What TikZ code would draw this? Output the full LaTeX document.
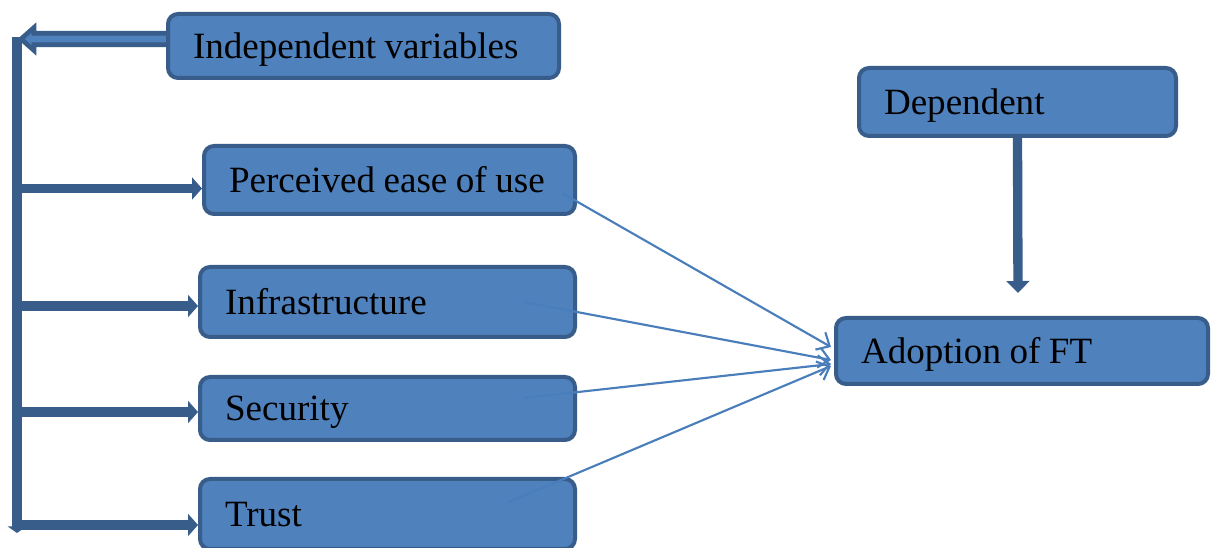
\documentclass[tikz,border=0pt]{standalone}
\usepackage{fontspec}
\setmainfont{Liberation Serif}
\usetikzlibrary{arrows.meta,calc,backgrounds}
\definecolor{bf}{HTML}{4F81BD}
\definecolor{bd}{HTML}{385D8A}
\definecolor{ln}{HTML}{4A7EBB}
\newcommand\boxtxt[1]{\spaceskip=0.23em\relax\mbox{#1}}
\tikzset{
  box/.style={draw=bd, fill=bf, line width=3pt, rounded corners=7.5pt,
    inner xsep=18.75pt, inner ysep=0pt, align=left,
    font=\fontsize{27.8pt}{33pt}\selectfont, text height=18.4pt, text depth=0pt},
  fatarrow/.style={draw=bd, line width=7pt, -{Triangle[length=7.5pt,width=16.5pt]}},
  thinarrow/.style={draw=ln, line width=1.6pt, -{Straight Barb[length=8pt,width=15pt,line width=1.6pt]}},
}
\begin{document}
\begin{tikzpicture}[x=0.75pt,y=-0.75pt]
\useasboundingbox (0,0) rectangle (1211,548);
% boxes
\node[box, minimum width=293.25pt, minimum height=48pt, text width=255.75pt] (indep) at (363.5,46) {\boxtxt{Independent variables}};
\node[box, minimum width=278.25pt, minimum height=51pt, text width=240.75pt] (per) at (389.5,180) {\boxtxt{Perceived ease of use}};
\node[box, minimum width=281.25pt, minimum height=52.5pt, text width=243.75pt] (inf) at (387.5,302) {\boxtxt{Infrastructure}};
\node[box, minimum width=281.25pt, minimum height=47.25pt, text width=243.75pt] (sec) at (387.5,408.5) {\boxtxt{Security}};
\node[box, minimum width=281.25pt, minimum height=52.5pt, text width=243.75pt] (tru) at (387.5,514) {\boxtxt{Trust}};
\node[box, minimum width=237.75pt, minimum height=51pt, text width=200.25pt] (dep) at (1017.5,102) {\boxtxt{Dependent}};
\node[box, minimum width=279pt, minimum height=49.5pt, text width=241.5pt] (ado) at (1022,351) {\boxtxt{Adoption of FT}};
% top outlined arrow
\coordinate (ta) at ($(indep.west)+(0,-7)$);
\coordinate (ttip) at (21,39);
\begin{pgfonlayer}{background}
\draw[draw=bd, fill=bf, line width=3.5pt, line join=miter]
  ($(ta)+(0,-5.8)$) -- ($(ttip)+(13,-5.8)$) -- ($(ttip)+(13,-11.5)$) -- (ttip)
  -- ($(ttip)+(13,11.5)$) -- ($(ttip)+(13,5.8)$) -- ($(ta)+(0,5.8)$);
\end{pgfonlayer}
% vertical bar
\coordinate (vtop) at (17,37);
\coordinate (vbot) at (17,533);
\draw[draw=bd, line width=7pt, -{Triangle[length=5pt,width=14pt]}] (vtop) -- (vbot);
% horizontal arrows
\coordinate (pa) at ($(per.west)+(0,8.5)$);
\coordinate (ia) at ($(inf.west)+(0,4)$);
\coordinate (sa) at ($(sec.west)+(0,3.5)$);
\coordinate (ra) at ($(tru.west)+(0,11)$);
\draw[fatarrow] (vtop |- pa) -- (pa);
\draw[fatarrow] (vtop |- ia) -- (ia);
\draw[fatarrow] (vtop |- sa) -- (sa);
\draw[fatarrow] (vtop |- ra) -- (ra);
% dependent arrow
\coordinate (dtip) at ($(dep.south)+(0.5,155)$);
\draw[draw=bd, line width=7pt, -{Triangle[length=9pt,width=17pt]}] (dep.south) -- (dtip);
% thin arrows
\draw[thinarrow] ($(per.east)+(-15,13)$) -- ($(ado.west)+(-3,-4)$);
\draw[thinarrow] ($(inf.east)+(-53,0)$) -- ($(ado.west)+(-3,9)$);
\draw[thinarrow] ($(sec.east)+(-53,-10.5)$) -- ($(ado.west)+(-3,13)$);
\draw[thinarrow] ($(tru.east)+(-68,-12)$) -- ($(ado.west)+(-3,15)$);
\end{tikzpicture}
\end{document}
